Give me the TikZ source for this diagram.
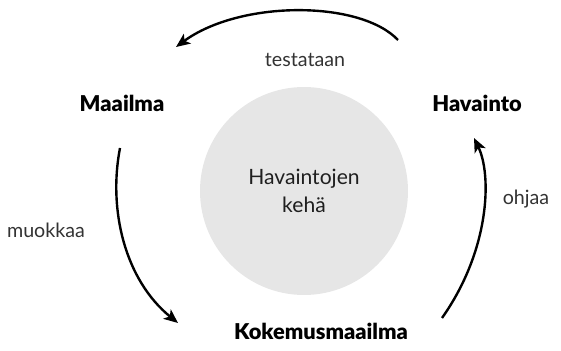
\documentclass[tikz,border=0pt]{standalone}
\usepackage{fontspec}
\setmainfont{Lato}
\newfontfamily\raskas{Lato Black}
\usetikzlibrary{arrows.meta}
\definecolor{kehagray}{HTML}{E6E6E6}
\definecolor{labelgray}{HTML}{333333}
\tikzset{
	vaihe/.style={font=\fontsize{15.5}{18}\raskas, text=black},
	toiminto/.style={font=\fontsize{14}{17}\selectfont, text=labelgray},
	nuoli/.style={-{Stealth[length=10pt, width=8.5pt, inset=2.5pt]}, line width=1.7pt}
}
\begin{document}
\begin{tikzpicture}[x=0.025cm, y=0.025cm]
		\useasboundingbox (0,0) rectangle (561,350);
		\node[circle, fill=kehagray, minimum size=208*0.025cm, align=center,
			font=\fontsize{15}{19.5}\selectfont, text=black!88](keha) at (304,159) {Havaintojen\\kehä};
		\node[vaihe](maailma) at (122,247) {Maailma};
		\node[vaihe](havainto) at (477,247) {Havainto};
		\node[vaihe](kokemus) at (321,19) {Kokemusmaailma};
		\node[toiminto](testataan) at (305,290) {testataan};
		\node[toiminto](muokkaa) at (46,120) {muokkaa};
		\node[toiminto](ohjaa) at (526,151) {ohjaa};
		% kierron nuolet
		\coordinate (a1) at (398,310);
		\coordinate (a2) at (176,303);
		\coordinate (b1) at (120,202);
		\coordinate (b2) at (178,27);
		\coordinate (c1) at (442,32);
		\coordinate (c2) at (474,212);
		\draw[nuoli] (a1) .. controls (360,350) and (240,350) .. (a2);
		\draw[nuoli] (b1) .. controls (108,140) and (125,70) .. (b2);
		\draw[nuoli] (c1) .. controls (490,100) and (492,175) .. (c2);
	\end{tikzpicture}
\end{document}
